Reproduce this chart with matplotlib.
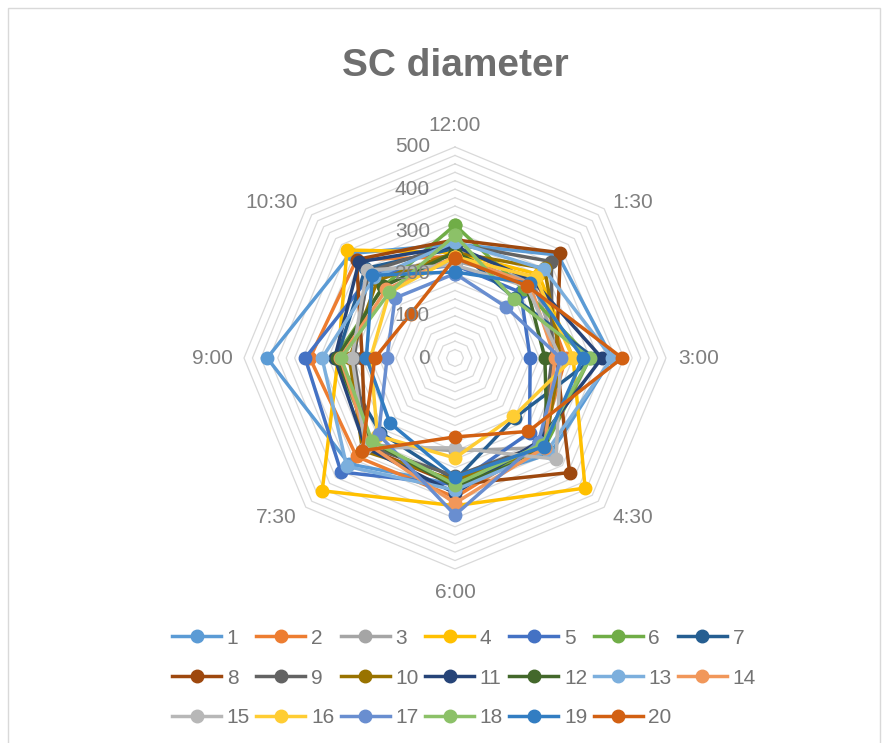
import numpy as np
import matplotlib
matplotlib.use("Agg")
import matplotlib.pyplot as plt
from matplotlib.patches import Rectangle

plt.rcParams['font.family'] = ['Liberation Sans', 'DejaVu Sans']

# Clock positions around the radar
categories = ["12:00", "1:30", "3:00", "4:30", "6:00", "7:30", "9:00", "10:30"]
series_names = [str(i) for i in range(1, 21)]

# Diameter readings per series, one value per clock position
s1 = [270, 345, 372, 320, 300, 355, 445, 350]
s2 = [240, 270, 262, 290, 330, 330, 344, 330]
s3 = [230, 260, 250, 300, 220, 290, 240, 290]
s4 = [250, 280, 280, 436, 350, 445, 277, 362]
s5 = [220, 220, 178, 250, 300, 382, 355, 280]
s6 = [315, 230, 320, 300, 300, 280, 285, 240]
s7 = [260, 200, 330, 200, 290, 250, 280, 300]
s8 = [280, 353, 240, 384, 300, 300, 220, 330]
s9 = [270, 323, 230, 290, 280, 295, 240, 290]
s10 = [250, 300, 250, 300, 290, 310, 250, 260]
s11 = [265, 260, 348, 280, 320, 300, 285, 322]
s12 = [250, 240, 213, 310, 305, 280, 280, 240]
s13 = [275, 298, 372, 310, 313, 363, 315, 270]
s14 = [240, 250, 237, 300, 344, 290, 272, 230]
s15 = [220, 240, 250, 339, 213, 300, 244, 295]
s16 = [240, 270, 280, 196, 237, 260, 200, 220]
s17 = [200, 171, 250, 280, 372, 256, 161, 201]
s18 = [291, 197, 320, 290, 300, 278, 270, 220]
s19 = [204, 250, 303, 297, 282, 218, 210, 277]
s20 = [237, 242, 396, 246, 187, 311, 190, 148]
all_series = [s1, s2, s3, s4, s5, s6, s7, s8, s9, s10,
              s11, s12, s13, s14, s15, s16, s17, s18, s19, s20]

colors = ["#5B9BD5", "#ED7D31", "#A5A5A5", "#FFC000", "#4472C4", "#70AD47",
          "#255E91", "#9E480E", "#636363", "#997300", "#264478", "#43682B",
          "#7CAFDD", "#F1975A", "#B7B7B7", "#FFCD33", "#698ED0", "#8CC168",
          "#327DC2", "#D26012"]

r_max = 500
major_ticks = [0, 100, 200, 300, 400, 500]
minor_step = 20

W, H = 893, 743
fig = plt.figure(figsize=(W / 100, H / 100), dpi=100)

# chart frame
fig.patches.append(Rectangle((8 / W, -0.01), 872 / W, (735 / H) + 0.01,
                             transform=fig.transFigure, fill=False,
                             edgecolor="#D9D9D9", linewidth=1.0))

cx, cy, rad = 455, H - 358, 211
ax = fig.add_axes([(cx - rad) / W, (cy - rad) / H, 2 * rad / W, 2 * rad / H],
                  polar=True)
ax.set_theta_offset(np.pi / 2)
ax.set_theta_direction(-1)
ax.set_ylim(0, r_max)
ax.grid(False)
ax.spines['polar'].set_visible(False)
ax.set_xticks([])
ax.set_yticks([])
ax.patch.set_alpha(0)

n = len(categories)
theta = np.linspace(0, 2 * np.pi, n, endpoint=False)
theta_closed = np.append(theta, theta[0])

# octagonal gridlines
for lvl in np.arange(minor_step, r_max + 1, minor_step):
    ax.plot(theta_closed, [lvl] * (n + 1), color="#D9D9D9", linewidth=0.9,
            zorder=0, clip_on=False)

# category labels
offsets = [(0, 12, 'center', 'bottom'), (8, 6, 'left', 'center'),
           (12, 0, 'left', 'center'), (8, -10, 'left', 'center'),
           (0, -14, 'center', 'top'), (-9, -10, 'right', 'center'),
           (-11, 0, 'right', 'center'), (-8, 6, 'right', 'center')]
for t, lab, (dx, dy, ha, va) in zip(theta, categories, offsets):
    ax.annotate(lab, xy=(t, r_max), xytext=(dx, dy), textcoords='offset pixels',
                ha=ha, va=va, fontsize=15, color="#7F7F7F", annotation_clip=False)

# radial value labels
for v in major_ticks:
    ax.annotate(str(v), xy=(0, v), xytext=(-25, 0), textcoords='offset pixels',
                ha='right', va='center', fontsize=15, color="#7F7F7F",
                annotation_clip=False)

handles = []
for name, vals, c in zip(series_names, all_series, colors):
    vv = np.append(vals, vals[0])
    h, = ax.plot(theta_closed, vv, color=c, linewidth=2.5, marker='o',
                 markersize=9, markerfacecolor=c, markeredgecolor=c,
                 clip_on=False, label=name)
    handles.append(h)

fig.text(cx / W, 1 - 66 / H, "SC diameter", ha='center', va='center',
         fontsize=28, fontweight='bold', color="#6E6E6E")

# row-major ordering for a 7-column legend
ncol = 7
order = []
for j in range(ncol):
    for k in range(j, len(handles), ncol):
        order.append(k)
leg = fig.legend([handles[k] for k in order], [series_names[k] for k in order],
                 ncol=ncol, loc='center', bbox_to_anchor=(464 / W, 1 - 678 / H),
                 frameon=False, fontsize=15, handlelength=2.35,
                 handletextpad=0.28, columnspacing=0.3, labelspacing=1.0)
for txt in leg.get_texts():
    txt.set_color("#737373")

fig.savefig("out.png", dpi=100)
